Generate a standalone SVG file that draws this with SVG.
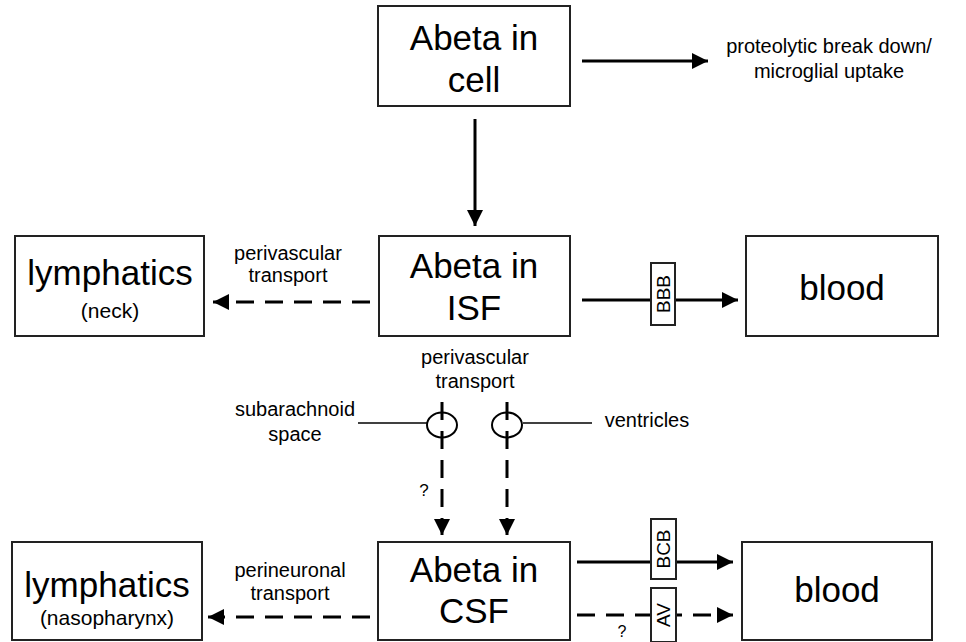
<svg xmlns="http://www.w3.org/2000/svg" width="966" height="642" viewBox="0 0 966 642">
<defs>
<marker id="ah" viewBox="0 0 10 10" refX="10" refY="5" markerWidth="17" markerHeight="16" markerUnits="userSpaceOnUse" orient="auto">
<path d="M0,0 L10,5 L0,10 Z" fill="#000"/>
</marker>
</defs>
<style>
.box{fill:#fff;stroke:#222;stroke-width:2}
.big{font-family:"Liberation Sans",Arial,sans-serif;font-size:35px;fill:#000;text-anchor:middle}
.mid{font-family:"Liberation Sans",Arial,sans-serif;font-size:21px;fill:#000;text-anchor:middle}
.sm{font-family:"Liberation Sans",Arial,sans-serif;font-size:19px;fill:#000;text-anchor:middle}
.lbl{font-family:"Liberation Sans",Arial,sans-serif;font-size:20px;fill:#000;text-anchor:middle}
.solid{stroke:#000;stroke-width:3;fill:none}
.dash{stroke:#000;stroke-width:3;fill:none;stroke-dasharray:18 11}
.thin{stroke:#000;stroke-width:1.5;fill:none}
.ell{stroke:#000;stroke-width:2;fill:none}
</style>
<g id="connectors">
<line class="solid" x1="582" y1="61" x2="708" y2="61" marker-end="url(#ah)"/>
<line class="solid" x1="475" y1="119" x2="475" y2="226" marker-end="url(#ah)"/>
<line class="dash" x1="370" y1="302" x2="213" y2="302" marker-end="url(#ah)"/>
<line class="solid" x1="582" y1="300" x2="738" y2="300" marker-end="url(#ah)"/>
<line class="dash" x1="442" y1="402" x2="442" y2="535" marker-end="url(#ah)"/>
<line class="dash" x1="507" y1="402" x2="507" y2="535" marker-end="url(#ah)"/>
<line class="dash" x1="370" y1="617" x2="208" y2="617" marker-end="url(#ah)"/>
<line class="solid" x1="577" y1="562" x2="733" y2="562" marker-end="url(#ah)"/>
<line class="dash" x1="577" y1="615" x2="733" y2="615" marker-end="url(#ah)"/>
<line class="thin" x1="358" y1="423" x2="427" y2="423"/>
<line class="thin" x1="523" y1="423" x2="592" y2="423"/>
</g>
<g id="cell">
<rect class="box" x="378" y="6" width="192" height="100"/>
<text class="big" x="474" y="50">Abeta in</text>
<text class="big" x="474" y="92">cell</text>
</g>
<g id="proteolytic">
<text class="lbl" x="829" y="53">proteolytic break down/</text>
<text class="lbl" x="829" y="78">microglial uptake</text>
</g>
<g id="isf">
<rect class="box" x="379" y="236" width="191" height="100"/>
<text class="big" x="474" y="278">Abeta in</text>
<text class="big" x="474" y="320">ISF</text>
</g>
<g id="lymph-neck">
<rect class="box" x="15" y="236" width="189" height="100"/>
<text class="big" x="110" y="285">lymphatics</text>
<text class="mid" x="110" y="318">(neck)</text>
</g>
<g id="perivascular-left">
<text class="lbl" x="288" y="260">perivascular</text>
<text class="lbl" x="288" y="282">transport</text>
</g>
<g id="bbb">
<rect class="box" x="651" y="263" width="24" height="62"/>
<text class="sm" transform="translate(670,294) rotate(-90)">BBB</text>
</g>
<g id="blood-top">
<rect class="box" x="746" y="236" width="192" height="100"/>
<text class="big" x="842" y="300">blood</text>
</g>
<g id="perivascular-mid">
<text class="lbl" x="475" y="364">perivascular</text>
<text class="lbl" x="475" y="388">transport</text>
</g>
<g id="subarachnoid">
<text class="lbl" x="295" y="416">subarachnoid</text>
<text class="lbl" x="295" y="441">space</text>
<ellipse class="ell" cx="442" cy="425" rx="15" ry="12.5"/>
</g>
<g id="ventricles">
<text class="lbl" x="647" y="427">ventricles</text>
<ellipse class="ell" cx="507" cy="425" rx="15" ry="12.5"/>
</g>
<g id="q1">
<text class="lbl" x="424" y="496" style="font-size:17px">?</text>
</g>
<g id="csf">
<rect class="box" x="378" y="542" width="192" height="98"/>
<text class="big" x="474" y="582">Abeta in</text>
<text class="big" x="474" y="623">CSF</text>
</g>
<g id="lymph-naso">
<rect class="box" x="12" y="542" width="190" height="98"/>
<text class="big" x="107" y="597">lymphatics</text>
<text class="mid" x="107" y="625">(nasopharynx)</text>
</g>
<g id="perineuronal">
<text class="lbl" x="290" y="577">perineuronal</text>
<text class="lbl" x="290" y="600">transport</text>
</g>
<g id="bcb">
<rect class="box" x="651" y="519" width="25" height="60"/>
<text class="sm" transform="translate(670,549) rotate(-90)">BCB</text>
</g>
<g id="av">
<rect class="box" x="651" y="588" width="25" height="54"/>
<text class="sm" transform="translate(670,615) rotate(-90)">AV</text>
</g>
<g id="q2">
<text class="lbl" x="622" y="637" style="font-size:16px">?</text>
</g>
<g id="blood-bottom">
<rect class="box" x="742" y="542" width="190" height="98"/>
<text class="big" x="837" y="602">blood</text>
</g>
</svg>
